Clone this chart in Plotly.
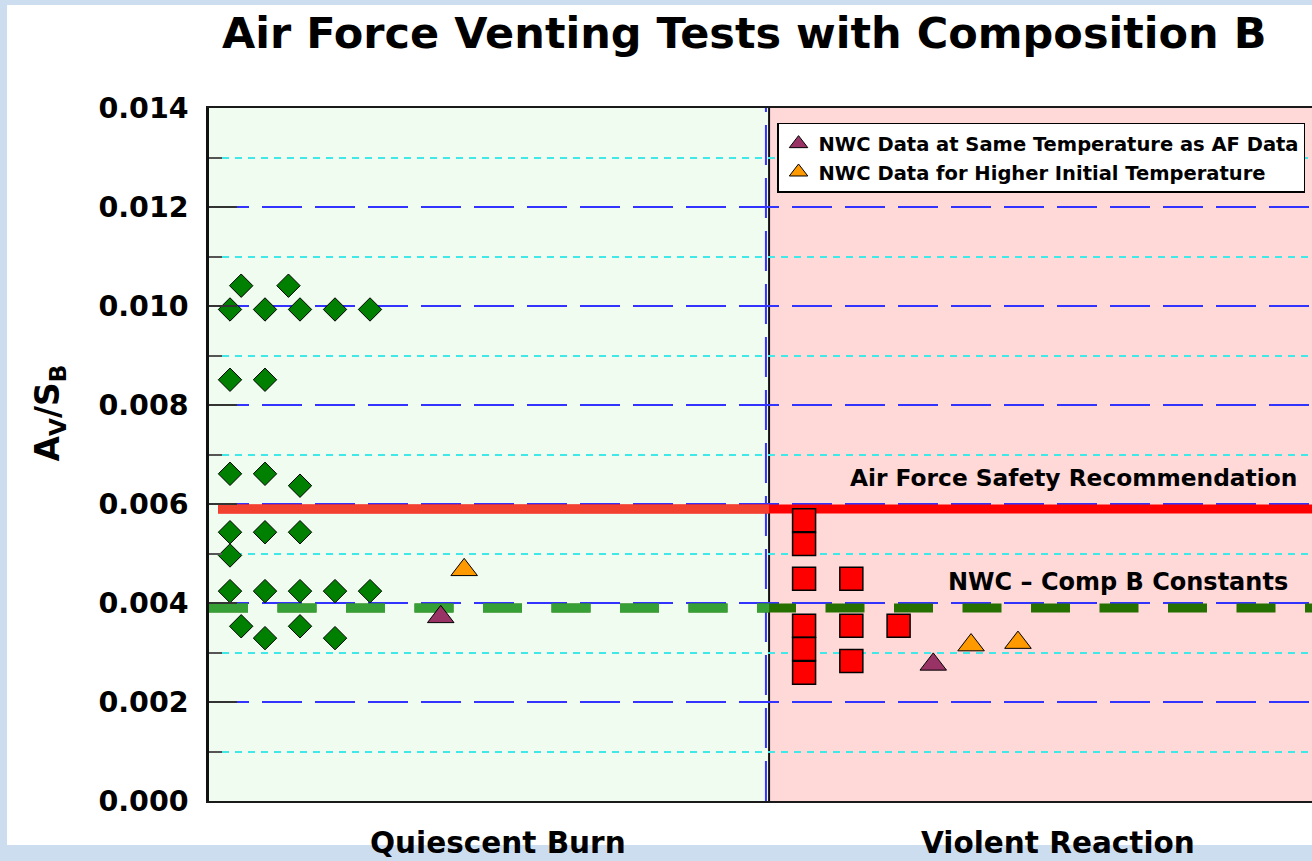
import plotly.graph_objects as go

# ---------------- data ----------------
# x is an arbitrary "test position" axis (left region = quiescent, right = violent)
quiescent_x = [0.92, 2.27,
               0.6, 1.6, 2.6, 3.6, 4.6,
               0.6, 1.6,
               0.6, 1.6, 2.6,
               0.6, 1.6, 2.6,
               0.6,
               0.6, 1.6, 2.6, 3.6, 4.6,
               0.92, 2.6,
               1.6, 3.6]
quiescent_y = [0.01041, 0.01041,
               0.00993, 0.00993, 0.00993, 0.00993, 0.00993,
               0.00851, 0.00851,
               0.00661, 0.00661, 0.00637,
               0.00543, 0.00543, 0.00543,
               0.00496,
               0.00424, 0.00424, 0.00424, 0.00424, 0.00424,
               0.00353, 0.00353,
               0.00329, 0.00329]

violent_x = [17.0, 17.0, 17.0, 17.0, 17.0, 17.0,
             18.35, 18.35, 18.35,
             19.7]
violent_y = [0.00567, 0.00519, 0.00449, 0.00354, 0.00307, 0.00259,
             0.00449, 0.00354, 0.00283,
             0.00354]

nwc_same_x = [6.62, 20.69]
nwc_same_y = [0.00372, 0.00276]

nwc_high_x = [7.29, 21.77, 23.11]
nwc_high_y = [0.00467, 0.00315, 0.00320]

af_recommendation = 0.0059
nwc_constant = 0.0039
region_bounds = [0, 16, 31.51]
line_start = [0.26, 0]          # where the two reference lines start
categories = ["Quiescent Burn", "Violent Reaction"]
category_x = [8.27, 24.24]

legend_names = ["NWC Data at Same Temperature as AF Data",
                "NWC Data for Higher Initial Temperature"]

FONT = "DejaVu Sans"
PAGE_BG = "#CCDDF0"
fig = go.Figure()

# reference lines (full-length dark version, then lighter version over the green region)
fig.add_trace(go.Scatter(x=[line_start[0], region_bounds[2] + 1], y=[af_recommendation] * 2,
                         mode="lines", line=dict(color="#FF0000", width=9),
                         showlegend=False, hoverinfo="skip"))
fig.add_trace(go.Scatter(x=[line_start[0], region_bounds[1]], y=[af_recommendation] * 2,
                         mode="lines", line=dict(color="#F2412F", width=9),
                         showlegend=False, hoverinfo="skip"))
fig.add_trace(go.Scatter(x=[line_start[1], region_bounds[2] + 1], y=[nwc_constant] * 2,
                         mode="lines", line=dict(color="#267000", width=9, dash="39px,29.5px"),
                         showlegend=False, hoverinfo="skip"))
fig.add_trace(go.Scatter(x=[line_start[1], region_bounds[1]], y=[nwc_constant] * 2,
                         mode="lines", line=dict(color="#36A036", width=9, dash="39px,29.5px"),
                         showlegend=False, hoverinfo="skip"))

# data markers
fig.add_trace(go.Scatter(x=quiescent_x, y=quiescent_y, mode="markers",
                         marker=dict(symbol="diamond", size=18, color="#008000",
                                     line=dict(color="black", width=1)),
                         showlegend=False))
fig.add_trace(go.Scatter(x=violent_x, y=violent_y, mode="markers",
                         marker=dict(symbol="square", size=23, color="#FF0000",
                                     line=dict(color="black", width=1.5)),
                         showlegend=False))
fig.add_trace(go.Scatter(x=nwc_same_x, y=nwc_same_y, mode="markers", name=legend_names[0],
                         marker=dict(symbol="triangle-up", size=23, color="#993366",
                                     line=dict(color="black", width=1))))
fig.add_trace(go.Scatter(x=nwc_high_x, y=nwc_high_y, mode="markers", name=legend_names[1],
                         marker=dict(symbol="triangle-up", size=23, color="#FF9900",
                                     line=dict(color="black", width=1))))

shapes = [
    # white slide panel
    dict(type="rect", xref="paper", yref="paper", x0=-0.1831, x1=1.05, y0=-0.0635, y1=1.1486,
         fillcolor="white", line=dict(width=0), layer="below"),
    # regions
    dict(type="rect", xref="x", yref="paper", x0=region_bounds[0], x1=region_bounds[1], y0=0, y1=1,
         fillcolor="#F1FCF1", line=dict(width=0), layer="below"),
    dict(type="rect", xref="x", yref="paper", x0=region_bounds[1], x1=region_bounds[2] + 1, y0=0, y1=1,
         fillcolor="#FFD8D8", line=dict(width=0), layer="below"),
    # dividers
    dict(type="line", xref="x", yref="paper", x0=region_bounds[1] - 0.09, x1=region_bounds[1] - 0.09,
         y0=0, y1=1, line=dict(color="#3333FF", width=2, dash="40px,13px"), layer="between"),
    dict(type="line", xref="x", yref="paper", x0=region_bounds[1], x1=region_bounds[1],
         y0=0, y1=1, line=dict(color="#111111", width=2), layer="between"),
]

annotations = [
    dict(text="Air Force Venting Tests with Composition B", xref="paper", yref="paper",
         x=0.4846, y=1.108, xanchor="center", yanchor="middle", showarrow=False,
         font=dict(family=FONT, size=43, color="black", weight="bold")),
    dict(text="A<sub>V</sub>/S<sub>B</sub>", xref="paper", yref="paper",
         x=-0.1442, y=0.5606, xanchor="center", yanchor="middle", showarrow=False, textangle=-90,
         font=dict(family=FONT, size=33, color="black", weight="bold")),
    dict(text="Air Force Safety Recommendation", xref="paper", yref="paper",
         x=0.9882, y=0.4668, xanchor="right", yanchor="middle", showarrow=False,
         font=dict(family=FONT, size=23.3, color="black", weight="bold")),
    dict(text="NWC \u2013 Comp B Constants", xref="paper", yref="paper",
         x=0.9800, y=0.3153, xanchor="right", yanchor="middle", showarrow=False,
         font=dict(family=FONT, size=24, color="black", weight="bold")),
]
for cat, cx in zip(categories, category_x):
    annotations.append(dict(text=cat, xref="x", yref="paper", x=cx, y=-0.0606,
                            xanchor="center", yanchor="middle", showarrow=False,
                            font=dict(family=FONT, size=29.5, color="black", weight="bold")))

fig.update_layout(
    width=1312, height=861, autosize=False,
    margin=dict(l=209, r=0, t=108, b=60, pad=0, autoexpand=False),
    paper_bgcolor=PAGE_BG, plot_bgcolor="white",
    shapes=shapes, annotations=annotations,
    showlegend=True,
    legend=dict(x=0.515, y=0.9784, xanchor="left", yanchor="top",
                bgcolor="white", bordercolor="black", borderwidth=1.5,
                font=dict(family=FONT, size=19.5, color="black", weight="bold"),
                tracegroupgap=0),
    xaxis=dict(range=[region_bounds[0], region_bounds[2]], showgrid=False, zeroline=False,
               showticklabels=False, ticks="", showline=True, mirror=True,
               linecolor="#1a1a1a", linewidth=2, automargin=False),
    yaxis=dict(range=[0, 0.014], dtick=0.002, tick0=0, tickformat=".3f",
               showgrid=True, gridcolor="#3333FF", gridwidth=2, griddash="40px,13px",
               zeroline=False, showline=True, linecolor="#111111", linewidth=2.5,
               ticks="inside", ticklen=28, tickwidth=1.5, tickcolor="#333333",
               ticklabelstandoff=12, automargin=False,
               tickfont=dict(family=FONT, size=28.5, color="black", weight="bold"),
               minor=dict(dtick=0.001, showgrid=True, gridcolor="#40E8E8", gridwidth=1.5,
                          griddash="7px,6px", ticks="inside", ticklen=13,
                          tickcolor="#555555", tickwidth=1.5)),
)

# remove the browser's default page margin so the figure fills the window exactly
page_js = ("document.body.style.margin='0';document.body.style.overflow='hidden';"
           "document.body.style.background='" + PAGE_BG + "';")
fig.write_html("out.html", post_script=page_js, config={"displayModeBar": False})
